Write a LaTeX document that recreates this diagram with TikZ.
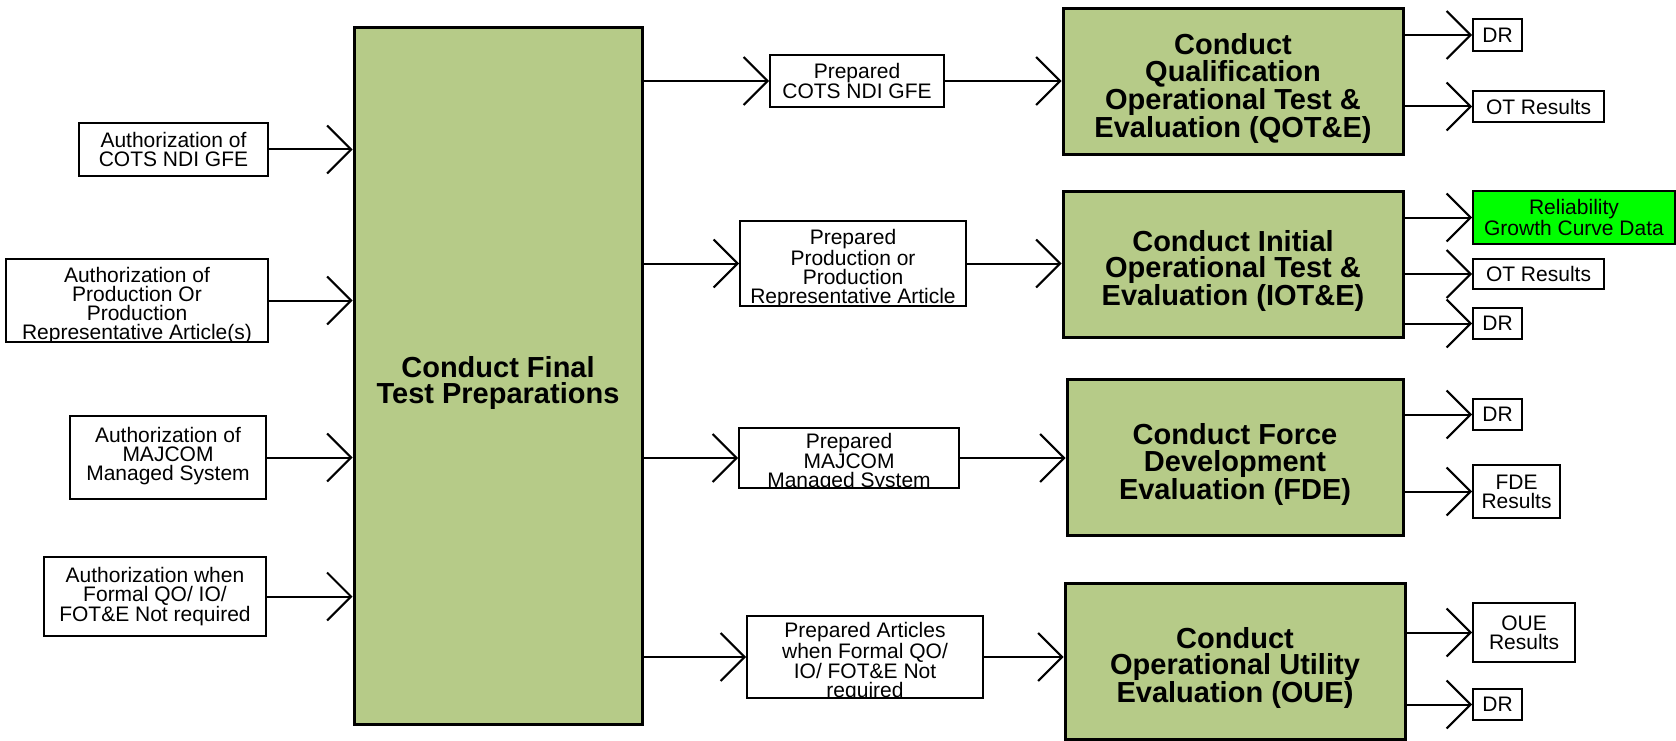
\documentclass[tikz,border=0pt]{standalone}
\usepackage{fontspec}
\setmainfont{Liberation Sans}
\usepackage{xcolor}
\usetikzlibrary{arrows.meta}
\definecolor{testgreen}{RGB}{182,203,136}
\definecolor{brightgreen}{RGB}{0,255,0}

\tikzset{
txt/.style={font=\fontsize{21}{19}\selectfont, align=center},
gtxt/.style={font=\fontsize{29}{26.5}\selectfont\bfseries, align=center},
wbox/.style={txt, draw, line width=2pt, fill=white, inner sep=0pt},
gbox/.style={draw, line width=3pt, fill=testgreen, inner sep=0pt},
cut/.style={path picture={\node[txt, draw=none, fill=none, inner sep=0pt, yshift=-5pt]
  at (path picture bounding box.center) {#1};}},
gcut/.style={path picture={\node[gtxt, draw=none, fill=none, inner sep=0pt, yshift=-7pt]
  at (path picture bounding box.center) {#1};}},
arr/.style={line width=2pt, -{Straight Barb[length=24pt, width=48pt]}}
}

\begin{document}
\begin{tikzpicture}[x=1pt, y=-1pt]
\useasboundingbox (0,0) rectangle (1676,741);

\node[gbox, minimum width=288pt, minimum height=696pt,
  gcut={Conduct Final\\Test Preparations}] (final) at (498,376) {};

\node[wbox, minimum width=189pt, minimum height=53pt] (authcots) at (173.5,149.5) {Authorization of\\COTS NDI GFE};
\node[wbox, minimum width=262pt, minimum height=83pt,
  cut={Authorization of\\Production Or\\Production\\Representative Article(s)}] (authprod) at (137,300.5) {};
\node[wbox, minimum width=196pt, minimum height=83pt] (authmaj) at (168,457.5) {Authorization of\\MAJCOM\\Managed System\rule[-8pt]{0pt}{0pt}};
\node[wbox, minimum width=222pt, minimum height=79pt] (authnone) at (155,596.5) {Authorization when\\Formal QO/ IO/\\FOT\&E Not required};

\node[wbox, minimum width=174pt, minimum height=52pt] (prepcots) at (857,81) {Prepared\\COTS NDI GFE};
\node[wbox, minimum width=226pt, minimum height=85pt,
  cut={Prepared\\Production or\\Production\\Representative Article}] (prepprod) at (853,263.5) {};
\node[wbox, minimum width=220pt, minimum height=60pt,
  cut={Prepared\\MAJCOM\\Managed System}] (prepmaj) at (849,458) {};
\node[wbox, minimum width=236pt, minimum height=82pt,
  cut={Prepared Articles\\when Formal QO/\\IO/ FOT\&E Not\\required}] (prepart) at (865,657) {};

\node[gbox, minimum width=340pt, minimum height=146pt,
  gcut={Conduct\\Qualification\\Operational Test \&\\Evaluation (QOT\&E)}] (qote) at (1233,81.5) {};
\node[gbox, minimum width=340pt, minimum height=146pt,
  gcut={Conduct Initial\\Operational Test \&\\Evaluation (IOT\&E)}] (iote) at (1233,264) {};
\node[gbox, minimum width=336pt, minimum height=156pt,
  gcut={Conduct Force\\Development\\Evaluation (FDE)}] (fde) at (1235,457.5) {};
\node[gbox, minimum width=340pt, minimum height=156pt,
  gcut={Conduct\\Operational Utility\\Evaluation (OUE)}] (oue) at (1235,661) {};

\node[wbox, minimum width=49pt, minimum height=32pt] (dr1) at (1497.5,35) {DR};
\node[wbox, minimum width=131pt, minimum height=31pt] (ot1) at (1538.5,106.5) {OT Results};
\node[wbox, fill=brightgreen, minimum width=202pt, minimum height=53pt] (rel) at (1574,217.5) {Reliability\\Growth Curve Data};
\node[wbox, minimum width=131pt, minimum height=30pt] (ot2) at (1538.5,274) {OT Results};
\node[wbox, minimum width=49pt, minimum height=31pt] (dr2) at (1497.5,323.5) {DR};
\node[wbox, minimum width=49pt, minimum height=31pt] (dr3) at (1497.5,414.5) {DR};
\node[wbox, minimum width=87pt, minimum height=53pt] (fderes) at (1516.5,491.5) {FDE\\Results};
\node[wbox, minimum width=102pt, minimum height=59pt] (oueres) at (1524,632.5) {OUE\\Results};
\node[wbox, minimum width=49pt, minimum height=31pt] (dr4) at (1497.5,704.5) {DR};

\draw[arr] (authcots.east) -- (authcots.east -| final.west);
\draw[arr] (authprod.east) -- (authprod.east -| final.west);
\draw[arr] (authmaj.east) -- (authmaj.east -| final.west);
\draw[arr] (authnone.east) -- (authnone.east -| final.west);

\draw[arr] (final.east |- prepcots.west) -- (prepcots.west);
\draw[arr] (final.east |- prepprod.west) -- (prepprod.west);
\draw[arr] (final.east |- prepmaj.west) -- (prepmaj.west);
\draw[arr] (final.east |- prepart.west) -- (prepart.west);

\draw[arr] (prepcots.east) -- (prepcots.east -| qote.west);
\draw[arr] (prepprod.east) -- (prepprod.east -| iote.west);
\draw[arr] (prepmaj.east) -- (prepmaj.east -| fde.west);
\draw[arr] (prepart.east) -- (prepart.east -| oue.west);

\draw[arr] (qote.east |- dr1.west) -- (dr1.west);
\draw[arr] (qote.east |- ot1.west) -- (ot1.west);
\draw[arr] (iote.east |- rel.west) -- (rel.west);
\draw[arr] (iote.east |- ot2.west) -- (ot2.west);
\draw[arr] (iote.east |- dr2.west) -- (dr2.west);
\draw[arr] (fde.east |- dr3.west) -- (dr3.west);
\draw[arr] (fde.east |- fderes.west) -- (fderes.west);
\draw[arr] (oue.east |- oueres.west) -- (oueres.west);
\draw[arr] (oue.east |- dr4.west) -- (dr4.west);
\end{tikzpicture}
\end{document}
